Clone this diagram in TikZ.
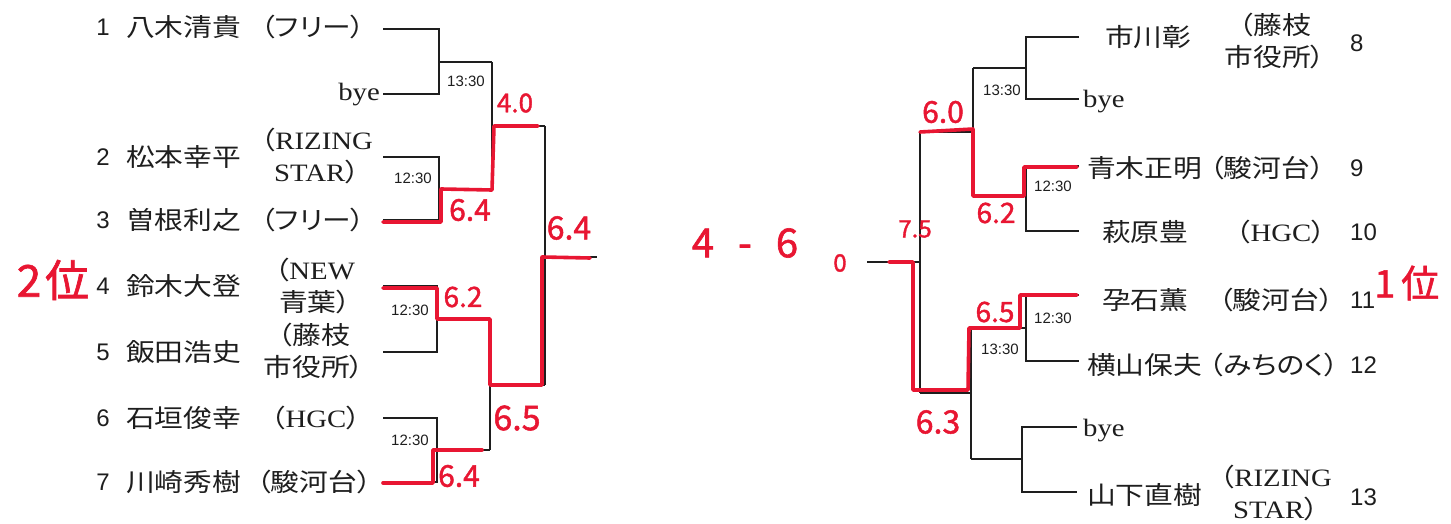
\documentclass[tikz,border=0pt]{standalone}
\usepackage{fontspec}
\newfontfamily\jp[FakeStretch=1.15]{Noto Sans CJK JP}
\newfontfamily\jpp[FakeStretch=1.15,RawFeature=+palt]{Noto Sans CJK JP}
\newfontfamily\lat[FakeStretch=1.15]{Liberation Serif}
\newfontfamily\num{Liberation Sans}
\newfontfamily\hand[FakeBold=1.5]{Noto Sans CJK JP}
\definecolor{hred}{RGB}{232,22,50}
\definecolor{ink}{RGB}{30,30,30}
\tikzset{
  br/.style={line width=1.7pt, draw=ink},
  rp/.style={line width=3.6pt, draw=hred, line join=round, line cap=round},
  nm/.style={font=\jp\fontsize{25}{27}\selectfont, text=ink, inner sep=0pt, anchor=west},
  af/.style={font=\jpp\fontsize{25}{32}\selectfont, text=ink, inner sep=0pt, align=center},
  nr/.style={font=\num\fontsize{24}{26}\selectfont, text=ink, inner sep=0pt},
  by/.style={font=\lat\fontsize{25}{27}\selectfont, text=ink, inner sep=0pt},
  tm/.style={font=\num\fontsize{15}{17}\selectfont, text=ink, inner sep=0pt},
  hw/.style={font=\hand\fontsize{30}{32}\selectfont, text=hred, inner sep=0pt},
}
\begin{document}
\begin{tikzpicture}[x=1pt,y=-1pt]
\useasboundingbox[fill=white] (0,0) rectangle (1451,524);

% ---------- left side texts ----------
\node[nr] (n1) at (103,27) {1};
\node[nr] (n2) at (103,157) {2};
\node[nr] (n3) at (103,220) {3};
\node[nr] (n4) at (103,286) {4};
\node[nr] (n5) at (103,352) {5};
\node[nr] (n6) at (103,418) {6};
\node[nr] (n7) at (103,482) {7};
\node[nm] (a1) at (126,27) {八木清貴};
\node[nm] (a2) at (126,157) {松本幸平};
\node[nm] (a3) at (126,220) {曽根利之};
\node[nm] (a4) at (126,286) {鈴木大登};
\node[nm] (a5) at (126,352) {飯田浩史};
\node[nm] (a6) at (126,418) {石垣俊幸};
\node[nm] (a7) at (126,482) {川崎秀樹};
\node[af] (f1) at (313,27) {（フリー）};
\node[af] (f2) at (317,156) {（{\lat RIZING}\\{\lat STAR}）};
\node[af] (f3) at (313,220) {（フリー）};
\node[af] (f4) at (315,286) {（{\lat NEW}\\青葉）};
\node[af] (f5) at (314,351) {（藤枝\\市役所）};
\node[af] (f6) at (316,418) {（{\lat HGC}）};
\node[af] (f7) at (314,482) {（駿河台）};
\node[by,anchor=east] (b0) at (380,95) {bye};

% ---------- right side texts ----------
\node[nm] (a8)  at (1105,37) {市川彰};
\node[nm] (a9)  at (1087,168) {青木正明};
\node[nm] (a10) at (1102,232) {萩原豊};
\node[nm] (a11) at (1102,300) {孕石薫};
\node[nm] (a12) at (1087,365) {横山保夫};
\node[nm] (a13) at (1087,495) {山下直樹};
\node[af] (f8)  at (1275,41) {（藤枝\\市役所）};
\node[af] (f9)  at (1267,168) {（駿河台）};
\node[af] (f10) at (1281,232) {（{\lat HGC}）};
\node[af] (f11) at (1276,300) {（駿河台）};
\node[af] (f12) at (1274,365) {（みちのく）};
\node[af] (f13) at (1276,493) {（{\lat RIZING}\\{\lat STAR}）};
\node[nr,anchor=west] (n8)  at (1350,43) {8};
\node[nr,anchor=west] (n9)  at (1350,168) {9};
\node[nr,anchor=west] (n10) at (1350,232) {10};
\node[nr,anchor=west] (n11) at (1350,300) {11};
\node[nr,anchor=west] (n12) at (1350,365) {12};
\node[nr,anchor=west] (n13) at (1350,497) {13};
\node[by,anchor=west] (b1) at (1083,102) {bye};
\node[by,anchor=west] (b2) at (1083,431) {bye};

% ---------- left bracket ----------
\coordinate (l1) at (383,29);
\coordinate (l0) at (383,94);
\coordinate (l2) at (383,157);
\coordinate (l3) at (383,220);
\coordinate (l4) at (383,286);
\coordinate (l5) at (383,352);
\coordinate (l6) at (383,418);
\coordinate (l7) at (383,482);
\coordinate (jA) at (439,62);   \coordinate (oA) at (492,62);
\coordinate (jB) at (439,189);  \coordinate (oB) at (492,189);
\coordinate (jAB) at (492,126); \coordinate (oAB) at (545,126);
\coordinate (jC) at (437,319);  \coordinate (oC) at (490,319);
\coordinate (jD) at (437,450);  \coordinate (oD) at (490,450);
\coordinate (jCD) at (490,385); \coordinate (oCD) at (545,385);
\coordinate (jL) at (545,257);  \coordinate (oL) at (597,257);

\draw[br] (l1) -| (jA) |- (l0);  \draw[br] (jA) -- (oA);
\draw[br] (l2) -| (jB) |- (l3);  \draw[br] (jB) -- (oB);
\draw[br] (oA) -- (oB);          \draw[br] (jAB) -- (oAB);
\draw[br] (l4) -| (jC) |- (l5);  \draw[br] (jC) -- (oC);
\draw[br] (l6) -| (jD) |- (l7);  \draw[br] (jD) -- (oD);
\draw[br] (oC) -- (oD);          \draw[br] (jCD) -- (oCD);
\draw[br] (oAB) -- (oCD);        \draw[br] (jL) -- (oL);

% ---------- right bracket ----------
\coordinate (r8)  at (1079,37);
\coordinate (rb1) at (1079,99);
\coordinate (r9)  at (1079,166);
\coordinate (r10) at (1079,231);
\coordinate (r11) at (1079,295);
\coordinate (r12) at (1079,361);
\coordinate (rb2) at (1077,427);
\coordinate (r13) at (1077,492);
\coordinate (jE) at (1026,68);   \coordinate (oE) at (973,68);
\coordinate (jF) at (1026,196);  \coordinate (oF) at (973,196);
\coordinate (jEF) at (973,132);  \coordinate (oEF) at (920,132);
\coordinate (jG) at (1026,328);  \coordinate (oG) at (971,328);
\coordinate (jH) at (1022,459);  \coordinate (oH) at (971,459);
\coordinate (jGH) at (971,393);  \coordinate (oGH) at (920,393);
\coordinate (jR) at (920,262);   \coordinate (oR) at (867,262);

\draw[br] (r8) -| (jE) |- (rb1);   \draw[br] (jE) -- (oE);
\draw[br] (r9) -| (jF) |- (r10);   \draw[br] (jF) -- (oF);
\draw[br] (oE) -- (oF);            \draw[br] (jEF) -- (oEF);
\draw[br] (r11) -| (jG) |- (r12);  \draw[br] (jG) -- (oG);
\draw[br] (rb2) -| (jH) |- (r13);  \draw[br] (jH) -- (oH);
\draw[br] (oG) -- (oH);            \draw[br] (jGH) -- (oGH);
\draw[br] (oEF) -- (oGH);          \draw[br] (jR) -- (oR);

% ---------- times ----------
\node[tm] (t1) at (466,81) {13:30};
\node[tm] (t2) at (413,178) {12:30};
\node[tm] (t3) at (410,310) {12:30};
\node[tm] (t4) at (410,440) {12:30};
\node[tm] (t5) at (1002,90) {13:30};
\node[tm] (t6) at (1053,186) {12:30};
\node[tm] (t7) at (1053,318) {12:30};
\node[tm] (t8) at (1000,349) {13:30};

% ---------- red pen ----------
\draw[rp] ([yshift=-2pt]l3) -| ([xshift=2pt]jB) -- ([yshift=-1pt]oB) -- ([xshift=2pt]jAB) -- ([xshift=-7pt]oAB);
\draw[rp] ([yshift=-2pt]l4) -| (jC) -- (oC) -- (jCD) -- ([xshift=-3pt]oCD) -- ([xshift=-3pt]jL) -- ([xshift=-7pt,yshift=-1pt]oL);
\draw[rp] ([yshift=-1pt]l7) -| ([xshift=-4pt]jD) -- ([xshift=-8pt]oD);
\draw[rp] ([xshift=-2pt,yshift=-1pt]r9) -| ([xshift=-2pt]jF) -- (oF) -- ([yshift=3pt]jEF) -- (oEF);
\draw[rp] ([xshift=-2pt]r11) -| ([xshift=-6pt]jG) -- ([xshift=-2pt]oG) -- ([xshift=-3pt,yshift=3pt]jGH) -- ([xshift=-7pt,yshift=3pt]oGH) -- ([xshift=-7pt]jR) -- ([xshift=22pt]oR);

\node[hw,font=\hand\fontsize{26}{28}\selectfont] (h1) at (515,103) {4.0};
\node[hw] (h2) at (470,210) {6.4};
\node[hw,font=\hand\fontsize{32}{34}\selectfont] (h3) at (569,228) {6.4};
\node[hw,font=\hand\fontsize{44}{46}\selectfont] (h4) at (53,280) {2\hspace{4pt}位};
\node[hw,font=\hand\fontsize{28}{30}\selectfont] (h5) at (463,297) {6.2};
\node[hw,font=\hand\fontsize{34}{36}\selectfont] (h6) at (517,418) {6.5};
\node[hw] (h7) at (459,476) {6.4};
\node[hw,font=\hand\fontsize{40}{42}\selectfont] (h8) at (745,243) {4\hspace{24pt}-\hspace{24pt}6};
\node[hw,font=\hand\fontsize{24}{26}\selectfont] (h9) at (840,263) {0};
\node[hw,font=\hand\fontsize{24}{26}\selectfont] (h10) at (915,229) {7.5};
\node[hw] (h11) at (943,112) {6.0};
\node[hw,font=\hand\fontsize{28}{30}\selectfont] (h12) at (996,213) {6.2};
\node[hw,font=\hand\fontsize{28}{30}\selectfont] (h13) at (995,312) {6.5};
\node[hw,font=\hand\fontsize{32}{34}\selectfont] (h14) at (938,422) {6.3};
\node[hw,font=\hand\fontsize{38}{40}\selectfont,anchor=west] (h15) at (1374,283) {1\hspace{6pt}位};
\end{tikzpicture}
\end{document}
